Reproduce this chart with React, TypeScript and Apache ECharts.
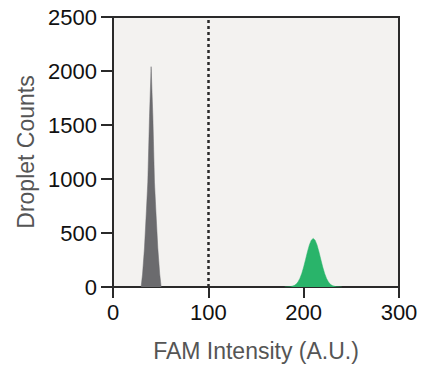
import React, { useEffect, useRef } from "react";
import * as echarts from "echarts";

// Negative (gray) droplet population
const grayX = [29.5, 31, 33, 35, 36.5, 38.3, 40, 41.8, 43.5, 45, 47, 49, 50.5];
const grayY = [0, 120, 360, 700, 970, 1580, 2040, 1580, 970, 700, 360, 120, 0];

// Positive (green) droplet population
const greenX = [180, 186, 190, 192, 194, 196, 198, 200, 202, 204, 206, 208, 210, 212, 214, 216, 218, 220, 222, 224, 226, 228, 230, 234, 240];
const greenY = [0, 3, 13, 25, 46, 79, 125, 185, 255, 327, 390, 434, 450, 434, 390, 327, 255, 185, 125, 79, 46, 25, 13, 3, 0];

const xTicks = [0, 100, 200, 300];
const yTicks = [0, 500, 1000, 1500, 2000, 2500];
const threshold = 100;

const FONT = "'Liberation Sans', Arial, Helvetica, sans-serif";

export default function App() {
  const ref = useRef<HTMLDivElement>(null);
  useEffect(() => {
    if (!ref.current) return;
    const chart = echarts.init(ref.current, undefined, { renderer: "svg" });
    const axisLine = { show: true, lineStyle: { color: "#2a2a2a", width: 2 } };
    chart.setOption({
      animation: false,
      backgroundColor: "#ffffff",
      grid: {
        left: 113,
        right: 27,
        top: 17,
        bottom: 78,
        show: true,
        backgroundColor: "#f3f2f0",
        borderColor: "#2a2a2a",
        borderWidth: 2,
      },
      xAxis: {
        type: "value",
        min: xTicks[0],
        max: xTicks[xTicks.length - 1],
        interval: 100,
        axisLine,
        axisTick: { show: true, length: 11, lineStyle: { color: "#2a2a2a", width: 2 } },
        axisLabel: { color: "#111", fontSize: 22, fontFamily: FONT, margin: 14, formatter: (v: number) => String(v) },
        splitLine: { show: false },
        name: "FAM Intensity (A.U.)",
        nameLocation: "middle",
        nameGap: 52,
        nameTextStyle: { color: "#555", fontSize: 23, fontFamily: FONT },
      },
      yAxis: {
        type: "value",
        min: yTicks[0],
        max: yTicks[yTicks.length - 1],
        interval: 500,
        axisLine,
        axisTick: { show: true, length: 12, lineStyle: { color: "#2a2a2a", width: 2 } },
        axisLabel: { color: "#111", fontSize: 22, fontFamily: FONT, margin: 16, formatter: (v: number) => String(v) },
        splitLine: { show: false },
        name: "Droplet Counts",
        nameLocation: "middle",
        nameGap: 71,
        nameTextStyle: { color: "#555", fontSize: 23, fontFamily: FONT },
      },
      series: [
        {
          type: "line",
          data: grayX.map((x, i) => [x, grayY[i]]),
          showSymbol: false,
          lineStyle: { color: "#6b6b6e", width: 0.5 },
          areaStyle: { color: "#6b6b6e", opacity: 1 },
          markLine: {
            silent: true,
            symbol: "none",
            label: { show: false },
            lineStyle: { color: "#2a2a2a", width: 2.5, type: [3, 3] },
            data: [{ xAxis: threshold }],
          },
        },
        {
          type: "line",
          data: greenX.map((x, i) => [x, greenY[i]]),
          showSymbol: false,
          lineStyle: { color: "#29b46a", width: 0.5 },
          areaStyle: { color: "#29b46a", opacity: 1 },
        },
      ],
    });
    return () => chart.dispose();
  }, []);
  return <div ref={ref} style={{ position: "fixed", left: 0, top: 0, width: 426, height: 367 }} />;
}
